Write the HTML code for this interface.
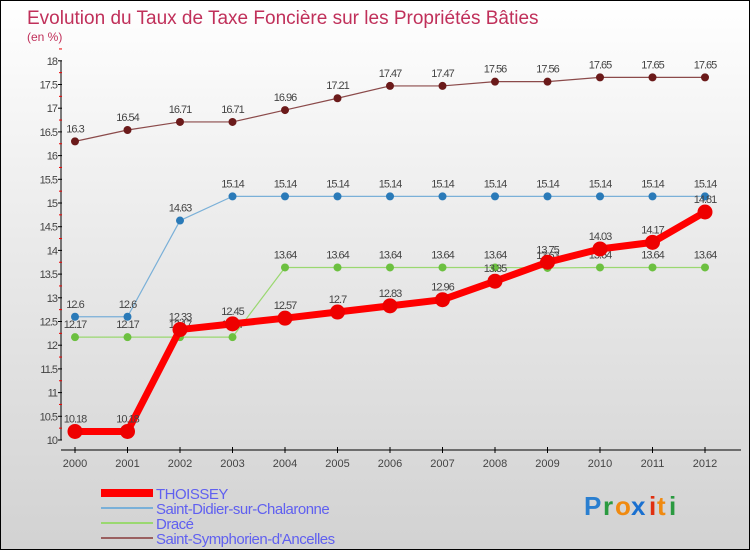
<!DOCTYPE html>
<html><head><meta charset="utf-8"><style>
body{margin:0}
#c{width:748px;height:548px;border:1px solid #000;background:linear-gradient(#fff,#ececec 40%,#d2d2d2);position:relative;overflow:hidden;font-family:"Liberation Sans",sans-serif}
</style></head><body>
<div id="c">
<svg id="s" width="748" height="548" xmlns="http://www.w3.org/2000/svg">
<text x="26" y="23" font-size="19" fill="#c0305a">Evolution du Taux de Taxe Foncière sur les Propriétés Bâties</text>
<text x="26" y="40" font-size="12" fill="#c0305a">(en %)</text>
<g id="axes"></g><g id="series"></g><g id="legend"></g>
<g font-size="26" font-weight="bold">
<text x="583" y="514" fill="#2a7fd0">P</text><text x="602" y="514" fill="#2a9a40">r</text><text x="614" y="514" fill="#f08a10">o</text><text x="630" y="514" fill="#1a70d0">x</text><text x="648" y="514" fill="#e03010">i</text><text x="656" y="514" fill="#f08a10">t</text><text x="668" y="514" fill="#2a9a40">i</text>
</g>
</svg></div>
<script>
const years=[2000,2001,2002,2003,2004,2005,2006,2007,2008,2009,2010,2011,2012];
const yTicks=[10,10.5,11,11.5,12,12.5,13,13.5,14,14.5,15,15.5,16,16.5,17,17.5,18];
const thoissey=[10.18,10.18,12.33,12.45,12.57,12.7,12.83,12.96,13.35,13.75,14.03,14.17,14.81];
const saintDidier=[12.6,12.6,14.63,15.14,15.14,15.14,15.14,15.14,15.14,15.14,15.14,15.14,15.14];
const drace=[12.17,12.17,12.17,12.17,13.64,13.64,13.64,13.64,13.64,13.63,13.64,13.64,13.64];
const saintSymph=[16.3,16.54,16.71,16.71,16.96,17.21,17.47,17.47,17.56,17.56,17.65,17.65,17.65];
const NS='http://www.w3.org/2000/svg';
const X=i=>74+i*52.5, Y=v=>439-(v-10)*47.4;
function mk(t,a,p,txt){const e=document.createElementNS(NS,t);for(const k in a)e.setAttribute(k,a[k]);if(txt!==undefined)e.textContent=txt;p.appendChild(e);return e;}
const ax=document.getElementById('axes');
let yl=mk('line',{x1:60,y1:Y(18),x2:60,y2:Y(10),stroke:'#000'},ax);


yTicks.forEach(v=>{mk('line',{x1:57,x2:61,y1:Y(v),y2:Y(v),stroke:'#000'},ax);
mk('line',{x1:58,x2:61,y1:Y(v+0.25),y2:Y(v+0.25),stroke:'#e00'},ax);
let t=mk('text',{x:56,y:Y(v)+4,'font-size':11,'text-anchor':'end',fill:'#444','letter-spacing':'-1'},ax,String(v));

});
let xl=mk('line',{x1:60,y1:449,x2:740,y2:449,stroke:'#000'},ax);


years.forEach((y,i)=>{mk('line',{x1:X(i),x2:X(i),y1:446,y2:452,stroke:'#000'},ax);
let t=mk('text',{x:X(i),y:466,'font-size':11,'text-anchor':'middle',fill:'#444'},ax,String(y));

});
const se=document.getElementById('series');
function draw(name,data,col,w,r,dot){
const g=mk('g',{},se);


mk('polyline',{points:data.map((v,i)=>X(i)+','+Y(v)).join(' '),fill:'none',stroke:col,'stroke-width':w,'stroke-linejoin':'round'},g);
data.forEach((v,i)=>{let c=mk('circle',{cx:X(i),cy:Y(v),r:r,fill:dot},g);


let t=mk('text',{x:X(i),y:Y(v)-9,'font-size':11,'text-anchor':'middle',fill:'#444','letter-spacing':'-1'},g,String(v));

});}
draw('saint-symphorien-line',saintSymph,'#8b4a4a',1.2,4,'#6b1a1a');
draw('saint-didier-line',saintDidier,'#7ab0d8',1.2,4,'#2a7ab8');
draw('drace-line',drace,'#9ad870',1.2,4,'#6cc040');
draw('thoissey-line',thoissey,'#f00',7,7.5,'#e00');
const lg=document.getElementById('legend');
[['THOISSEY','#f00',8],['Saint-Didier-sur-Chalaronne','#7ab0d8',2],['Dracé','#9ad870',2],['Saint-Symphorien-d\'Ancelles','#9a6060',2]].forEach((e,i)=>{
const g=mk('g',{},lg);


const y=492+i*15;
mk('line',{x1:100,x2:152,y1:y,y2:y,stroke:e[1],'stroke-width':e[2]},g);
mk('text',{x:155,y:y+6,'font-size':15,fill:'#6060f0','letter-spacing':'-0.5'},g,e[0]);});
</script></body></html>
